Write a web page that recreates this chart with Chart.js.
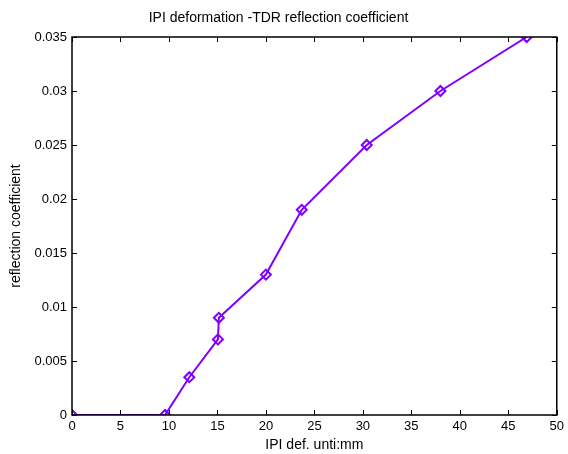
<!DOCTYPE html>
<html>
<head>
<meta charset="utf-8">
<script src="https://cdn.jsdelivr.net/npm/chart.js@4"></script>
<style>
  html, body { margin: 0; padding: 0; background: #fff; }
  #wrap { width: 568px; height: 454px; }
</style>
</head>
<body>
<div id="wrap"><canvas id="chart" width="568" height="454"></canvas></div>
<script>
// values
const deformation = [0, 9.6, 12.1, 15.05, 15.15, 20.0, 23.7, 30.4, 38.0, 46.9];
const reflection = [0, 0, 0.0035, 0.007, 0.009, 0.013, 0.019, 0.025, 0.030, 0.035];
const xTicks = [0, 5, 10, 15, 20, 25, 30, 35, 40, 45, 50];
const yTicks = [0, 0.005, 0.01, 0.015, 0.02, 0.025, 0.03, 0.035];

const lineColor = '#7f00ff';
const font = 'Liberation Sans, Arial, sans-serif';

// matlab style box with ticks pointing inward
const boxTicks = {
  id: 'boxTicks',
  afterDraw(chart) {
    const { ctx, chartArea: a, scales: { x, y } } = chart;
    const len = 5;
    ctx.save();
    ctx.strokeStyle = '#000';
    ctx.lineWidth = 1;
    ctx.beginPath();
    xTicks.forEach(v => {
      const px = Math.round(x.getPixelForValue(v)) + 0.5;
      ctx.moveTo(px, a.bottom); ctx.lineTo(px, a.bottom - len);
      ctx.moveTo(px, a.top); ctx.lineTo(px, a.top + len);
    });
    yTicks.forEach(v => {
      const py = Math.round(y.getPixelForValue(v)) + 0.5;
      ctx.moveTo(a.left, py); ctx.lineTo(a.left + len, py);
      ctx.moveTo(a.right, py); ctx.lineTo(a.right - len, py);
    });
    ctx.stroke();
    ctx.lineWidth = 1.5;
    ctx.strokeRect(a.left, a.top, a.right - a.left, a.bottom - a.top);
    ctx.restore();
  }
};

new Chart(document.getElementById('chart').getContext('2d'), {
  type: 'scatter',
  data: {
    datasets: [{
      data: deformation.map((v, i) => ({ x: v, y: reflection[i] })),
      showLine: true,
      borderColor: lineColor,
      borderWidth: 2,
      pointStyle: 'rectRot',
      pointRadius: 5,
      pointBorderWidth: 2,
      pointBackgroundColor: 'rgba(0,0,0,0)',
      pointBorderColor: lineColor
    }]
  },
  options: {
    responsive: false,
    animation: false,
    layout: { padding: { top: 0, right: 11, left: 0, bottom: 0 } },
    plugins: {
      legend: { display: false },
      tooltip: { enabled: false },
      title: {
        display: true,
        text: 'IPI deformation -TDR reflection coefficient',
        color: '#000',
        font: { family: font, size: 14, weight: 'normal' },
        padding: { top: 9.6, bottom: 10.6 }
      }
    },
    scales: {
      x: {
        type: 'linear',
        min: 0,
        max: 50,
        afterBuildTicks(s) { s.ticks = xTicks.map(v => ({ value: v })); },
        afterFit(s) { s.height = 39; },
        grid: { display: false, drawTicks: false },
        border: { display: false },
        ticks: { color: '#000', font: { family: font, size: 13 }, padding: 4 },
        title: {
          display: true,
          text: 'IPI def. unti:mm',
          color: '#000',
          font: { family: font, size: 14 },
          padding: { top: 0, bottom: 0 }
        }
      },
      y: {
        min: 0,
        max: 0.035,
        afterBuildTicks(s) { s.ticks = yTicks.map(v => ({ value: v })); },
        afterFit(s) { s.width = 72; },
        grid: { display: false, drawTicks: false },
        border: { display: false },
        ticks: {
          color: '#000',
          font: { family: font, size: 13 },
          padding: 5,
          callback: v => String(+v.toFixed(3))
        },
        title: {
          display: true,
          text: 'reflection coefficient',
          color: '#000',
          font: { family: font, size: 14 },
          padding: { top: 8, bottom: 0 }
        }
      }
    }
  },
  plugins: [boxTicks]
});
</script>
</body>
</html>
